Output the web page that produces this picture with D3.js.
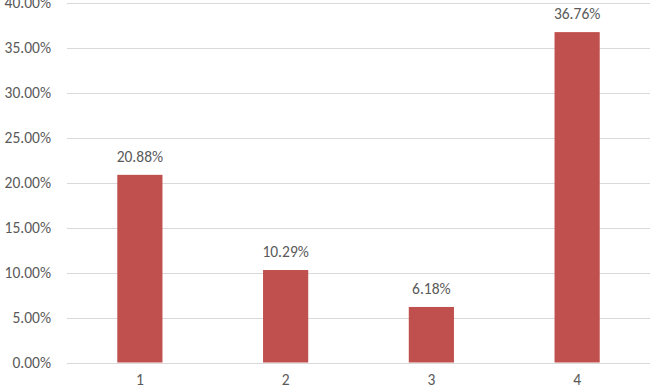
<!DOCTYPE html>
<html>
<head>
<meta charset="utf-8">
<script src="https://cdn.jsdelivr.net/npm/d3@7"></script>
<style>
  body { margin: 0; background: #fff; }
  svg { display: block; }
  text { font-family: Carlito, Lato, "Open Sans", sans-serif; fill: #595959; }
</style>
</head>
<body>
<div id="chart"></div>
<script>
// chart values
const categories = ["1", "2", "3", "4"];
const values = [20.88, 10.29, 6.18, 36.76];
const yTicks = [0, 5, 10, 15, 20, 25, 30, 35, 40];

const width = 650, height = 391;
const margin = { top: 3, right: 0, bottom: 28.5, left: 67 };
const fontSize = "15.5px";

const svg = d3.select("#chart").append("svg")
    .attr("width", width)
    .attr("height", height);

const x = d3.scaleBand()
    .domain(categories)
    .range([margin.left, width - margin.right])
    .paddingInner(0.69)
    .paddingOuter(0.345);

const y = d3.scaleLinear()
    .domain([0, 40])
    .range([height - margin.bottom, margin.top]);

// gridlines
svg.append("g")
    .selectAll("line")
    .data(yTicks)
    .join("line")
    .attr("x1", margin.left)
    .attr("x2", width - margin.right)
    .attr("y1", d => Math.round(y(d)) + 0.5)
    .attr("y2", d => Math.round(y(d)) + 0.5)
    .attr("stroke", "#d9d9d9")
    .attr("stroke-width", 1);

// y tick labels
svg.append("g")
    .selectAll("text")
    .data(yTicks)
    .join("text")
    .attr("x", 51)
    .attr("y", d => y(d))
    .attr("dy", "0.35em")
    .attr("text-anchor", "end")
    .style("font-size", fontSize)
    .text(d => d.toFixed(2) + "%");

// bars
svg.append("g")
    .selectAll("rect")
    .data(values)
    .join("rect")
    .attr("x", (d, i) => x(categories[i]))
    .attr("width", x.bandwidth())
    .attr("y", d => y(d))
    .attr("height", d => y(0) - y(d))
    .attr("fill", "#c0504d");

// value labels
svg.append("g")
    .selectAll("text")
    .data(values)
    .join("text")
    .attr("x", (d, i) => x(categories[i]) + x.bandwidth() / 2)
    .attr("y", d => y(d) - 13)
    .attr("text-anchor", "middle")
    .style("font-size", fontSize)
    .text(d => d.toFixed(2) + "%");

// x labels
svg.append("g")
    .selectAll("text")
    .data(categories)
    .join("text")
    .attr("x", d => x(d) + x.bandwidth() / 2)
    .attr("y", height - 6)
    .attr("text-anchor", "middle")
    .style("font-size", fontSize)
    .text(d => d);
</script>
</body>
</html>
